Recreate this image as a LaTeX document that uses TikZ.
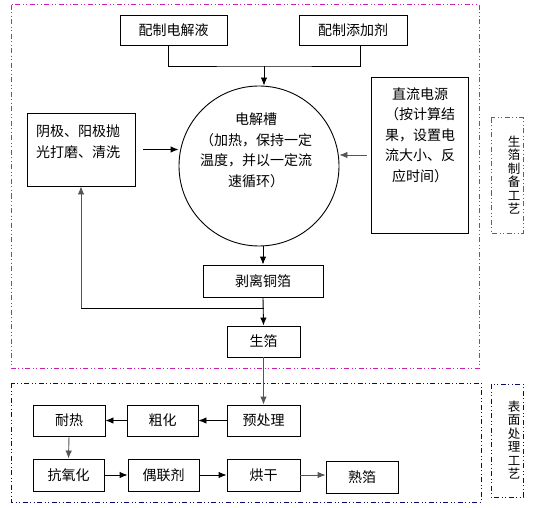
\documentclass[tikz,border=0pt]{standalone}
\usepackage{fontspec}
\setmainfont{Noto Sans CJK SC}
\usetikzlibrary{arrows.meta,positioning}
\definecolor{framepink}{RGB}{200,30,180}
\definecolor{framenavy}{RGB}{10,10,110}
\definecolor{linegray}{RGB}{85,85,85}
\begin{document}
\begin{tikzpicture}[x=1pt,y=-1pt,
    box/.style={draw,line width=0.9pt,inner sep=0pt,font=\fontsize{14}{20.5}\selectfont},
    txt/.style={inner sep=0pt,font=\fontsize{14}{20.5}\selectfont},
    frame/.style={line width=1pt,dash pattern=on 5pt off 2.5pt on 1pt off 2.5pt on 1pt off 2.5pt},
    side/.style={inner sep=0pt,align=center,font=\fontsize{12.5}{13.5}\selectfont},
    arr/.style={line width=0.9pt,-{Latex[length=8pt,width=6.5pt]}},
    garr/.style={arr,linegray}]
  \useasboundingbox (0,0) rectangle (533,508);
  % frames
  \draw[frame,framepink] (11,5) rectangle (479,368);
  \draw[frame,framepink] (491,118) rectangle (523,233);
  \node[side] (sidetop) at (514,175) {生\\箔\\制\\备\\工\\艺};
  \draw[frame,framenavy] (11,383) rectangle (481,502);
  \draw[frame,framenavy] (491,384) rectangle (523,497);
  \node[side] (sidebot) at (514,440) {表\\面\\处\\理\\工\\艺};
  % foil preparation
  \node[box,minimum width=107,minimum height=30] (sol) at (173.5,30) {配制电解液};
  \node[box,minimum width=108,minimum height=30] (add) at (353,30) {配制添加剂};
  \coordinate (mix) at (264,66);
  \node[draw,circle,line width=0.9pt,minimum size=160] (cell) at (259,166) {};
  \node[txt,align=center] (celltxt) at (256,150.5) {电解槽\\（加热，保持一定\\温度，并以一定流\\速循环）};
  \node[box,minimum width=108,minimum height=73] (clean) at (81,149.5) {};
  \node[txt,align=left] (cleantxt) at (78,141.5) {阴极、阳极抛\\光打磨、清洗};
  \node[box,minimum width=97,minimum height=156] (power) at (419.5,155) {};
  \node[txt,align=center] (powertxt) at (420,135) {直流电源\\（按计算结\\果，设置电\\流大小、反\\应时间）};
  \node[box,minimum width=120,minimum height=32] (strip) at (263,281) {剥离铜箔};
  \coordinate (jn) at (264,308);
  \node[box,minimum width=73,minimum height=31] (raw) at (263.5,341.5) {生箔};
  % surface treatment
  \node[box,minimum width=73,minimum height=31] (pre) at (263.5,420.5) {预处理};
  \node[box,minimum width=71,minimum height=31] (rough) at (162.5,420.5) {粗化};
  \node[box,minimum width=72,minimum height=31] (heat) at (69,420.5) {耐热};
  \node[box,minimum width=71,minimum height=32] (anti) at (68.5,475) {抗氧化};
  \node[box,minimum width=71,minimum height=32] (coup) at (163.5,475) {偶联剂};
  \node[box,minimum width=73,minimum height=32] (dry) at (263.5,475) {烘干};
  \node[box,minimum width=72,minimum height=32] (fin) at (362,477) {熟箔};
  % connectors
  \draw[line width=0.9pt] ([xshift=-5.5pt]sol.south) |- (mix) -| ([xshift=7pt]add.south);
  \draw[arr] (mix) -- (mix |- cell.north);
  \draw[arr] ([xshift=8pt]clean.east) coordinate (c1) -- (c1 -| cell.west);
  \draw[garr] ([xshift=-4pt]power.west) coordinate (p1) -- (p1 -| cell.east);
  \draw[arr] (cell.south -| strip.north) -- (strip.north);
  \draw[arr] (strip.south) -- (raw.north);
  \draw[line width=0.9pt] (jn) -- (jn -| clean.south);
  \draw[garr] (jn -| clean.south) -- (clean.south);
  \draw[garr] (raw.south) -- (pre.north);
  \draw[arr] (pre.west) -- (rough.east);
  \draw[arr] (rough.west) -- (heat.east);
  \draw[garr] (heat.south) -- (anti.north);
  \draw[arr] (anti.east) -- (coup.west);
  \draw[arr] (coup.east) -- (dry.west);
  \draw[garr] (dry.east) -- (fin.west |- dry.east);
\end{tikzpicture}
\end{document}
